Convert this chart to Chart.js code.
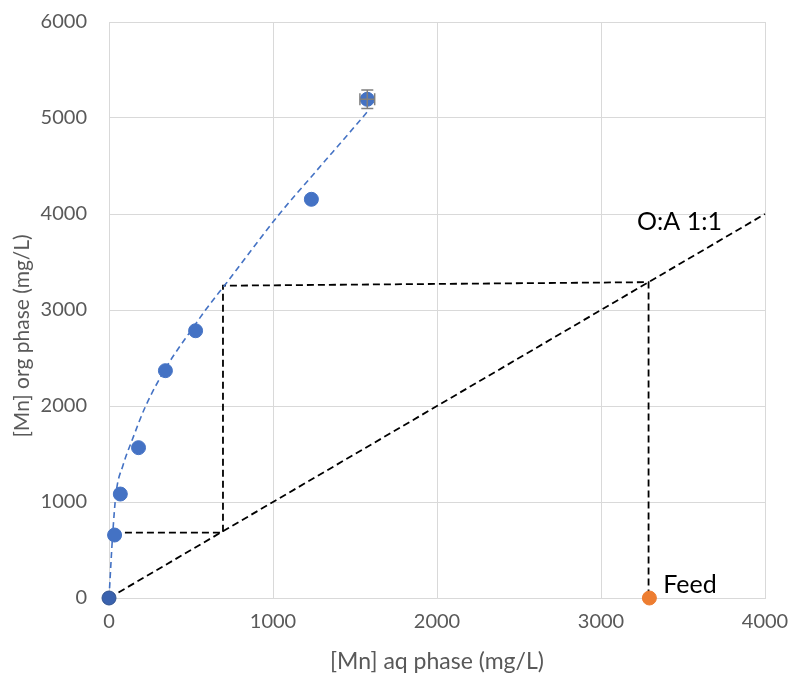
<!DOCTYPE html>
<html>
<head>
<meta charset="utf-8">
<script src="https://cdn.jsdelivr.net/npm/chart.js@4.4.1/dist/chart.umd.min.js"></script>
<style>
  html, body { margin: 0; padding: 0; background: #fff; }
  canvas { display: block; }
</style>
</head>
<body>
<canvas id="isotherm" width="788" height="675"></canvas>
<script>
// Extraction isotherm: Mn in organic vs aqueous phase (mg/L)
const aqMn = [0, 34, 69, 180, 344, 528, 1234, 1575];
const orgMn = [0, 656, 1083, 1566, 2368, 2784, 4153, 5195];

// error on the last measurement
const lastErrAq = 45;
const lastErrOrg = 96;

// fitted trend through the isotherm points
const trendAq = [0, 22, 43, 85, 140, 221, 355, 506, 593, 720, 1039, 1250, 1543, 1580];
const trendOrg = [0, 650, 1090, 1380, 1640, 1990, 2420, 2800, 3010, 3290, 4000, 4420, 5000, 5075];

// O:A 1:1 operating line
const opAq = [0, 4000];
const opOrg = [0, 4000];

// McCabe-Thiele stages
const stageAq = [30, 695, 695, 3290, 3290];
const stageOrg = [680, 680, 3253, 3290, 0];

// feed
const feedAq = [3295];
const feedOrg = [0];

const xTicks = [0, 1000, 2000, 3000, 4000];
const yTicks = [0, 1000, 2000, 3000, 4000, 5000, 6000];

const toPoints = (xs, ys) => xs.map((x, i) => ({ x: x, y: ys[i] }));

const axisGrey = "#595959";
const gridGrey = "#d9d9d9";
const fontFamily = "Lato, 'Open Sans', sans-serif";

// error bars on the last isotherm point
const errorBars = {
  id: "errorBars",
  afterDatasetsDraw(chart) {
    const ctx = chart.ctx;
    const xs = chart.scales.x;
    const ys = chart.scales.y;
    const i = aqMn.length - 1;
    const cx = xs.getPixelForValue(aqMn[i]);
    const cy = ys.getPixelForValue(orgMn[i]);
    const x0 = xs.getPixelForValue(aqMn[i] - lastErrAq);
    const x1 = xs.getPixelForValue(aqMn[i] + lastErrAq);
    const y0 = ys.getPixelForValue(orgMn[i] - lastErrOrg);
    const y1 = ys.getPixelForValue(orgMn[i] + lastErrOrg);
    const cap = 6;
    ctx.save();
    ctx.strokeStyle = "#7f7f7f";
    ctx.lineWidth = 1.5;
    ctx.beginPath();
    ctx.moveTo(cx, y0); ctx.lineTo(cx, y1);
    ctx.moveTo(cx - cap, y0); ctx.lineTo(cx + cap, y0);
    ctx.moveTo(cx - cap, y1); ctx.lineTo(cx + cap, y1);
    ctx.moveTo(x0, cy); ctx.lineTo(x1, cy);
    ctx.moveTo(x0, cy - cap); ctx.lineTo(x0, cy + cap);
    ctx.moveTo(x1, cy - cap); ctx.lineTo(x1, cy + cap);
    ctx.stroke();
    ctx.restore();
  }
};

// text labels placed in data coordinates, plus the vertical axis title
const textLabels = {
  id: "textLabels",
  afterDatasetsDraw(chart) {
    const ctx = chart.ctx;
    const xs = chart.scales.x;
    const ys = chart.scales.y;
    ctx.save();
    ctx.fillStyle = "#000";
    ctx.font = "25px " + fontFamily;
    ctx.textAlign = "left";
    ctx.textBaseline = "middle";
    ctx.fillText("O:A 1:1", xs.getPixelForValue(3220), ys.getPixelForValue(3917));
    ctx.fillText("Feed", xs.getPixelForValue(3380), ys.getPixelForValue(135));

    // y title sits a little below the middle of the axis
    ctx.fillStyle = axisGrey;
    ctx.font = "21px " + fontFamily;
    ctx.textAlign = "center";
    ctx.translate(22, ys.getPixelForValue(2730));
    ctx.rotate(-Math.PI / 2);
    ctx.fillText("[Mn] org phase (mg/L)", 0, 0);
    ctx.restore();
  }
};

new Chart(document.getElementById("isotherm"), {
  type: "scatter",
  data: {
    datasets: [
      {
        label: "Isotherm",
        data: toPoints(aqMn, orgMn),
        pointRadius: 7,
        pointHoverRadius: 7,
        pointBackgroundColor: aqMn.map((_, i) => (i === 0 ? "#3a62ae" : "#4472c4")),
        pointBorderColor: aqMn.map((_, i) => (i === 0 ? "#2f528f" : "#4472c4")),
        pointBorderWidth: 1,
        showLine: false,
        clip: false
      },
      {
        label: "Feed",
        data: toPoints(feedAq, feedOrg),
        pointRadius: 7,
        pointBackgroundColor: "#ed7d31",
        pointBorderColor: "#ed7d31",
        showLine: false,
        clip: false
      },
      {
        label: "Trend",
        data: toPoints(trendAq, trendOrg),
        showLine: true,
        pointRadius: 0,
        borderColor: "#4472c4",
        borderWidth: 1.6,
        borderDash: [6, 4],
        cubicInterpolationMode: "monotone",
        clip: false
      },
      {
        label: "Stages",
        data: toPoints(stageAq, stageOrg),
        showLine: true,
        pointRadius: 0,
        borderColor: "#000",
        borderWidth: 1.8,
        borderDash: [7, 4],
        tension: 0,
        clip: false
      },
      {
        label: "O:A 1:1",
        data: toPoints(opAq, opOrg),
        showLine: true,
        pointRadius: 0,
        borderColor: "#000",
        borderWidth: 1.8,
        borderDash: [7, 4],
        tension: 0,
        clip: false
      }
    ]
  },
  options: {
    responsive: false,
    animation: false,
    events: [],
    layout: { padding: { top: 22, right: 23, left: 0, bottom: 0 } },
    plugins: {
      legend: { display: false },
      tooltip: { enabled: false }
    },
    scales: {
      x: {
        type: "linear",
        min: 0,
        max: 4000,
        afterFit: (s) => {
          s.height = 77;
          s.paddingLeft = 0;
          s.paddingRight = 0;
        },
        afterBuildTicks: (s) => { s.ticks = xTicks.map((v) => ({ value: v })); },
        grid: { color: gridGrey, lineWidth: 1, drawTicks: false },
        border: { color: gridGrey, width: 1 },
        ticks: {
          color: axisGrey,
          padding: 12,
          font: { family: fontFamily, size: 20 },
          callback: (v) => String(v)
        },
        title: {
          display: true,
          text: "[Mn] aq phase (mg/L)",
          color: axisGrey,
          font: { family: fontFamily, size: 23 },
          padding: { top: 0, bottom: 0 }
        }
      },
      y: {
        type: "linear",
        min: 0,
        max: 6000,
        afterFit: (s) => {
          s.width = 109;
          s.paddingTop = 0;
          s.paddingBottom = 0;
        },
        afterBuildTicks: (s) => { s.ticks = yTicks.map((v) => ({ value: v })); },
        grid: { color: gridGrey, lineWidth: 1, drawTicks: false },
        border: { color: gridGrey, width: 1 },
        ticks: {
          color: axisGrey,
          padding: 22,
          font: { family: fontFamily, size: 20 },
          callback: (v) => String(v)
        }
      }
    }
  },
  plugins: [errorBars, textLabels]
});
</script>
</body>
</html>
